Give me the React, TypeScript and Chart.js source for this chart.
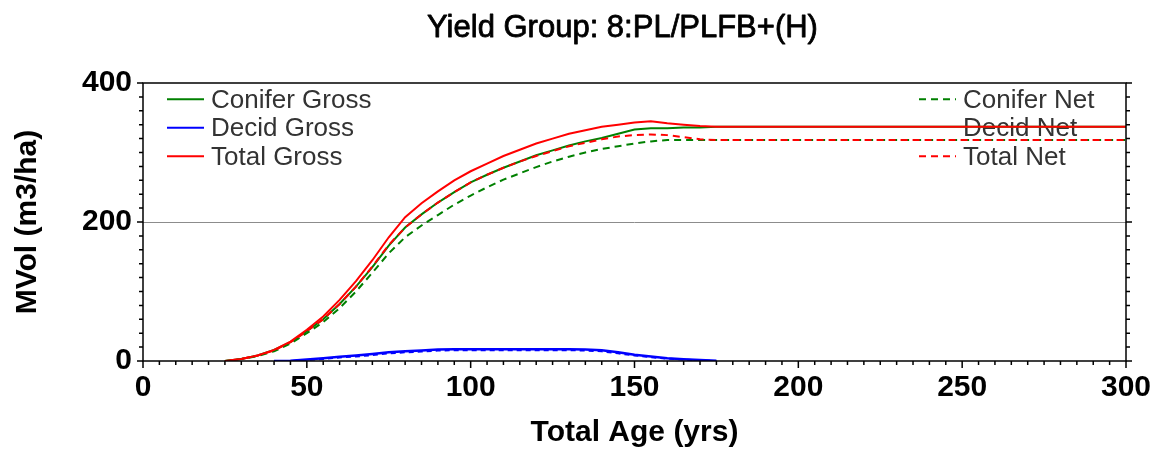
import React, { useEffect, useRef } from 'react';
import { Chart, registerables } from 'chart.js';

Chart.register(...registerables);

const TITLE = 'Yield Group: 8:PL/PLFB+(H)';
const X_TITLE = 'Total Age (yrs)';
const Y_TITLE = 'MVol (m3/ha)';

const ages = [25, 30, 35, 40, 45, 50, 55, 60, 65, 70, 75, 80, 85, 90, 95, 100, 105, 110, 115, 120, 125, 130, 135, 140, 145, 150, 155, 160, 165, 170, 175, 300];

const coniferGross = [0, 3, 8, 16, 27, 43, 60, 82, 107, 135, 166, 192, 211, 228, 243, 257, 268, 278, 287, 296, 303, 310, 316, 321, 327, 333, 335, 335, 336, 336, 337, 337];
const decidGross = [null, null, null, 0, 0.5, 2, 4, 6, 8, 10, 12.5, 14, 15, 16.5, 17, 17, 17, 17, 17, 17, 17, 17, 16.5, 15.5, 12.5, 9, 6.5, 4, 2.5, 1.5, 0.5, null];
const totalGross = [0, 3, 8, 16, 28, 45, 64, 88, 115, 145, 178, 207, 227, 244, 260, 273, 284, 295, 304, 313, 320, 327, 332, 337, 340, 343, 345, 342, 340, 338, 337, 337];
const coniferNet = [0, 3, 7, 14, 25, 40, 56, 76, 100, 127, 155, 178, 195, 210, 225, 238, 250, 261, 270, 279, 287, 294, 300, 305, 309, 313, 316, 318, 318, 318, 318, 318];
const decidNet = [null, null, null, 0, 0, 1.5, 3, 5, 6.5, 8.5, 11, 12.5, 13.5, 15, 15.5, 15.5, 15.5, 15.5, 15.5, 15.5, 15.5, 15.5, 15, 14, 11, 8, 5.5, 3.5, 2, 1, 0, null];
const totalNet = [0, 3, 8, 15, 27, 43, 60, 82, 107, 136, 167, 192, 211, 228, 243, 257, 268, 278, 287, 295, 302, 309, 314, 319, 323, 325, 326, 325, 322, 319, 318, 318];

const X_MIN = 0;
const X_MAX = 300;
const X_MAJOR = 50;
const X_MINOR = 5;
const Y_MIN = 0;
const Y_MAX = 400;
const Y_MAJOR = 200;
const Y_MINOR = 20;

const GREEN = '#008000';
const BLUE = '#0000ff';
const RED = '#ff0000';
const FONT = '"Liberation Sans", Arial, sans-serif';
const DASH = [7, 5];

const framePlugin = {
  id: 'frame',
  beforeDatasetsDraw(chart: any) {
    const { ctx, chartArea: ca } = chart;
    ctx.save();
    ctx.font = `26px ${FONT}`;
    ctx.textBaseline = 'middle';
    ctx.textAlign = 'left';
    chart.data.datasets.forEach((ds: any) => {
      const x0 = ds.legendCol === 0 ? ca.left + 24 : ca.right - 207;
      const y = ca.top + 17.8 + ds.legendRow * 28.5;
      if (ds.legendSample !== false) {
        ctx.strokeStyle = ds.borderColor;
        ctx.lineWidth = 2;
        ctx.setLineDash(ds.borderDash || []);
        ctx.beginPath();
        ctx.moveTo(x0, y - 1.5);
        ctx.lineTo(x0 + 37, y - 1.5);
        ctx.stroke();
      }
      ctx.setLineDash([]);
      ctx.fillStyle = '#333';
      ctx.fillText(ds.label, x0 + 44, y);
    });
    ctx.restore();
  },
  afterDraw(chart: any) {
    const { ctx, chartArea: ca } = chart;
    const xs = chart.scales.x;
    const ys = chart.scales.y;
    ctx.save();
    ctx.strokeStyle = '#000';
    ctx.lineWidth = 1.5;
    ctx.setLineDash([]);
    ctx.beginPath();
    for (let v = X_MIN; v <= X_MAX; v += X_MINOR) {
      const px = xs.getPixelForValue(v);
      const len = v % X_MAJOR === 0 ? 7 : 4;
      ctx.moveTo(px, ca.bottom);
      ctx.lineTo(px, ca.bottom + len);
    }
    for (let v = Y_MIN; v <= Y_MAX; v += Y_MINOR) {
      const py = ys.getPixelForValue(v);
      const len = v % Y_MAJOR === 0 ? 6 : 4;
      ctx.moveTo(ca.left - len, py);
      ctx.lineTo(ca.left, py);
      ctx.moveTo(ca.right, py);
      ctx.lineTo(ca.right + len, py);
    }
    ctx.stroke();
    ctx.strokeRect(ca.left, ca.top, ca.right - ca.left, ca.bottom - ca.top);
    ctx.font = `31px ${FONT}`;
    ctx.fillStyle = '#000';
    ctx.strokeStyle = '#000';
    ctx.lineWidth = 0.8;
    ctx.lineJoin = 'round';
    ctx.textAlign = 'center';
    ctx.textBaseline = 'alphabetic';
    const tx = (ca.left + ca.right) / 2 - 12;
    ctx.fillText(TITLE, tx, 37);
    ctx.strokeText(TITLE, tx, 37);
    ctx.restore();
  },
};

const mk = (vals: (number | null)[]) => ages.map((a, i) => ({ x: a, y: vals[i] }));

export default function App() {
  const ref = useRef<HTMLCanvasElement>(null);
  useEffect(() => {
    const canvas = ref.current!;
    const common = { pointRadius: 0, borderWidth: 2, fill: false, tension: 0, spanGaps: false };
    const chart = new Chart(canvas, {
      type: 'line',
      data: {
        datasets: [
          { ...common, label: 'Conifer Gross', data: mk(coniferGross), borderColor: GREEN, order: 4, legendCol: 0, legendRow: 0 } as any,
          { ...common, label: 'Decid Gross', data: mk(decidGross), borderColor: BLUE, borderWidth: 2.5, order: 2, legendCol: 0, legendRow: 1 } as any,
          { ...common, label: 'Total Gross', data: mk(totalGross), borderColor: RED, order: 0, legendCol: 0, legendRow: 2 } as any,
          { ...common, label: 'Conifer Net', data: mk(coniferNet), borderColor: GREEN, borderDash: DASH, order: 5, legendCol: 1, legendRow: 0 } as any,
          { ...common, label: 'Decid Net', data: mk(decidNet), borderColor: BLUE, borderDash: [5, 4], order: 3, legendCol: 1, legendRow: 1, legendSample: false } as any,
          { ...common, label: 'Total Net', data: mk(totalNet), borderColor: RED, borderDash: DASH, borderDashOffset: 6.5, order: 1, legendCol: 1, legendRow: 2 } as any,
        ],
      },
      options: {
        animation: false,
        responsive: false,
        maintainAspectRatio: false,
        layout: { padding: { top: 83, right: 26, bottom: 0, left: 0 } },
        plugins: { legend: { display: false }, tooltip: { enabled: false }, title: { display: false } },
        scales: {
          x: {
            type: 'linear',
            min: X_MIN,
            max: X_MAX,
            grid: { display: false, drawTicks: false },
            border: { display: false },
            ticks: { stepSize: X_MAJOR, color: '#000', font: { family: FONT, size: 30, weight: 'bold' }, padding: 9, maxRotation: 0 },
            title: { display: true, text: X_TITLE, color: '#000', font: { family: FONT, size: 30, weight: 'bold' }, padding: { top: 0, bottom: 0 } },
            afterFit: (s: any) => { s.height = 90; s.paddingLeft = 0; s.paddingRight = 0; },
          },
          y: {
            min: Y_MIN,
            max: Y_MAX,
            grid: {
              display: true,
              drawTicks: false,
              lineWidth: 1,
              color: (c: any) => (c.tick && c.tick.value > Y_MIN && c.tick.value < Y_MAX ? '#8c8c8c' : 'rgba(0,0,0,0)'),
            },
            border: { display: false },
            ticks: { stepSize: Y_MAJOR, color: '#000', font: { family: FONT, size: 30, weight: 'bold' }, padding: 11 },
            title: { display: true, text: Y_TITLE, color: '#000', font: { family: FONT, size: 30, weight: 'bold' }, padding: { top: 10, bottom: 0 } },
            afterFit: (s: any) => { s.width = 143; s.paddingTop = 0; s.paddingBottom = 0; },
          },
        },
      },
      plugins: [framePlugin],
    });
    return () => chart.destroy();
  }, []);
  return (
    <div style={{ position: 'absolute', left: 0, top: 0, width: 1152, height: 451, background: '#fff' }}>
      <canvas ref={ref} width={1152} height={451} style={{ display: 'block', width: 1152, height: 451 }} />
    </div>
  );
}
